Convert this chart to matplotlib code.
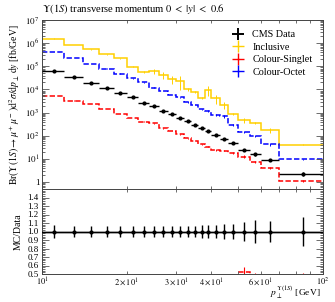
import numpy as np
import matplotlib
matplotlib.use("Agg")
import matplotlib.pyplot as plt
from matplotlib.ticker import FixedLocator, FuncFormatter, NullFormatter, MultipleLocator
from matplotlib.lines import Line2D

plt.rcParams['font.family'] = ['Liberation Serif', 'DejaVu Serif']
plt.rcParams['mathtext.fontset'] = 'stix'

# ---- data ----
edges = [10, 12, 14, 16, 18, 20, 22, 24, 26, 28, 30, 32, 34, 36, 38, 40, 43, 46, 50, 55, 60, 70, 100]
data_vals = [6.3e4, 3.45e4, 1.95e4, 1.15e4, 7.0e3, 4.5e3, 2.7e3, 1.9e3, 1.17e3, 8.5e2, 6.0e2,
             4.2e2, 3.0e2, 2.1e2, 1.55e2, 1.1e2, 74, 47, 24, 15.8, 8.9, 2.3]
data_rel_err = [0.078, 0.066, 0.06, 0.06, 0.06, 0.06, 0.06, 0.06, 0.06, 0.06, 0.06,
                0.066, 0.066, 0.074, 0.074, 0.074, 0.09, 0.09, 0.113, 0.13, 0.12, 0.176]
incl_vals = [1.56e6, 8.3e5, 5.4e5, 3.3e5, 2.2e5, 9.6e4, 5.7e4, 6.3e4, 4.2e4, 2.8e4, 2.4e4,
             1.0e4, 8.0e3, 4.1e3, 9.5e3, 4.1e3, 2.1e3, 8.7e2, 4.8e2, 3.4e2, 1.77e2, 40]
incl_rel_err = [0.02, 0.02, 0.03, 0.03, 0.05, 0.05, 0.08, 0.25, 0.35, 0.4, 0.6,
                0.1, 0.1, 0.1, 0.45, 0.4, 0.3, 0.1, 0.25, 0.1, 0.25, 0.05]
singlet_vals = [5.2e3, 3.3e3, 2.35e3, 1.42e3, 8.7e2, 5.8e2, 4.0e2, 3.4e2, 2.1e2, 1.65e2, 1.15e2,
                77, 61, 43, 34, 25, 23, 18, 12.6, 7.3, 3.9, 1.08]
singlet_rel_err = [0.02, 0.02, 0.02, 0.03, 0.03, 0.03, 0.04, 0.04, 0.05, 0.05, 0.05,
                   0.06, 0.06, 0.07, 0.07, 0.08, 0.08, 0.1, 0.12, 0.1, 0.1, 0.1]
octet_vals = [4.27e5, 2.35e5, 1.26e5, 7.9e4, 4.8e4, 3.0e4, 2.0e4, 1.2e4, 8.9e3, 5.8e3, 4.6e3,
              2.9e3, 2.2e3, 1.4e3, 1.15e3, 8.0e2, 6.8e2, 2.9e2, 1.5e2, 97, 42, 9.6]
octet_rel_err = [0.02, 0.02, 0.02, 0.03, 0.03, 0.03, 0.04, 0.04, 0.05, 0.05, 0.06,
                 0.06, 0.07, 0.07, 0.08, 0.08, 0.15, 0.1, 0.1, 0.1, 0.1, 0.05]

labels = ["CMS Data", "Inclusive", "Colour-Singlet", "Colour-Octet"]
title = r"$\Upsilon(1S)$ transverse momentum $0\ <\ |y|\ <\ 0.6$"
ylabel = r"$\mathrm{Br}(\Upsilon(1S)\rightarrow\mu^+\mu^-)\mathrm{d}^2\sigma/\mathrm{d}p_\perp\,\mathrm{d}y$ [fb/GeV]"
xlabel = r"$p_\perp^{\Upsilon(1S)}$ [GeV]"

YELLOW = "#FFD000"
BLUE = "#0000FF"
RED = "#FF0000"

edges_a = np.array(edges, float)
centers = 0.5 * (edges_a[:-1] + edges_a[1:])
halfw = 0.5 * (edges_a[1:] - edges_a[:-1])
data = np.array(data_vals)

W, H = 335, 302
fig = plt.figure(figsize=(W / 100, H / 100), dpi=100)
left, right = 42 / W, 323 / W
ax = fig.add_axes([left, 1 - 189 / H, right - left, (189 - 20) / H])
axr = fig.add_axes([left, 1 - 274 / H, right - left, (274 - 189) / H], sharex=ax)

mc = [(incl_vals, incl_rel_err, YELLOW, '-'),
      (singlet_vals, singlet_rel_err, RED, (0, (3.5, 1.5))),
      (octet_vals, octet_rel_err, BLUE, (0, (3.5, 1.5)))]

for vals, rel, col, ls in mc:
    v = np.array(vals)
    ax.stairs(v, edges_a, color=col, lw=1.1, linestyle=ls, baseline=None)
    ax.errorbar(centers, v, yerr=v * np.array(rel), fmt='none', ecolor=col, elinewidth=0.7)
    r = v / data
    axr.stairs(r, edges_a, color=col, lw=1.1, linestyle=ls, baseline=None)
    axr.errorbar(centers, r, yerr=r * np.array(rel), fmt='none', ecolor=col, elinewidth=0.8)

ax.errorbar(centers, data, xerr=halfw, yerr=data * np.array(data_rel_err), fmt='o', ms=2.0,
            color='black', elinewidth=1.0, capsize=0, zorder=5)
axr.axhline(1.0, color='black', lw=1.0, zorder=4)
axr.errorbar(centers, np.ones_like(data), xerr=halfw, yerr=np.array(data_rel_err), fmt='o', ms=2.0,
             color='black', elinewidth=1.0, capsize=0, zorder=5)

ax.set_xscale('log')
ax.set_yscale('log')
ax.set_xlim(10, 100)
ax.set_ylim(0.5, 1e7)
axr.set_ylim(0.5, 1.5)

fs = 6.5


def ylog_fmt(v, pos):
    e = int(round(np.log10(v)))
    if e == 0:
        return "1"
    return r"$10^{%d}$" % e


ax.yaxis.set_major_locator(FixedLocator([10.0 ** k for k in range(0, 8)]))
ax.yaxis.set_major_formatter(FuncFormatter(ylog_fmt))
ax.yaxis.set_minor_locator(FixedLocator([m * 10.0 ** k for k in range(-1, 7) for m in range(2, 10)]))
ax.yaxis.set_minor_formatter(NullFormatter())

axr.xaxis.set_major_locator(FixedLocator([10, 100]))
axr.xaxis.set_minor_locator(FixedLocator([20, 30, 40, 50, 60, 70, 80, 90]))
axr.xaxis.set_major_formatter(FuncFormatter(lambda v, p: r"$10^{%d}$" % int(round(np.log10(v)))))
minor_lab = {20: r"$2\times10^{1}$", 30: r"$3\times10^{1}$", 40: r"$4\times10^{1}$", 60: r"$6\times10^{1}$"}
axr.xaxis.set_minor_formatter(FuncFormatter(lambda v, p: minor_lab.get(int(round(v)), "")))
plt.setp(ax.get_xticklabels(which='both'), visible=False)

axr.yaxis.set_major_locator(FixedLocator([0.5 + 0.1 * k for k in range(10)]))
axr.yaxis.set_major_formatter(FuncFormatter(lambda v, p: "%.1f" % v))
axr.yaxis.set_minor_locator(MultipleLocator(0.02))

for a in (ax, axr):
    a.tick_params(which='both', direction='in', top=True, right=True, labelsize=fs, width=0.6,
                  color='#555555', pad=2)
    a.tick_params(which='major', length=5)
    a.tick_params(which='minor', length=2.5)
    for s in a.spines.values():
        s.set_linewidth(0.7)
        s.set_color('#444444')
axr.tick_params(axis='x', which='both', labelsize=6.0, pad=1.5)
axr.tick_params(axis='y', which='both', pad=2.5)

ax.text(0.0, 1.025, title, transform=ax.transAxes, fontsize=7.6, ha='left', va='bottom')
ax.set_ylabel(ylabel, fontsize=7.0, labelpad=2)
axr.set_ylabel("MC/Data", fontsize=7.0, labelpad=3.5)
fig.align_ylabels([ax, axr])
fig.text(321 / W, 0.002, xlabel, fontsize=6.8, ha='right', va='bottom')

handles = [Line2D([], [], color='black', marker='+', ms=9, mew=1.4, ls='none'),
           Line2D([], [], color=YELLOW, marker='+', ms=9, mew=1.0, ls='none'),
           Line2D([], [], color=RED, marker='+', ms=9, mew=1.0, ls='none'),
           Line2D([], [], color=BLUE, marker='+', ms=9, mew=1.0, ls='none')]
ax.legend(handles, labels, loc='upper left', bbox_to_anchor=(0.665, 0.965), frameon=False,
          fontsize=7.3, handlelength=1.0, handletextpad=0.9, labelspacing=0.35, borderaxespad=0)

fig.savefig("out.png", dpi=100)
